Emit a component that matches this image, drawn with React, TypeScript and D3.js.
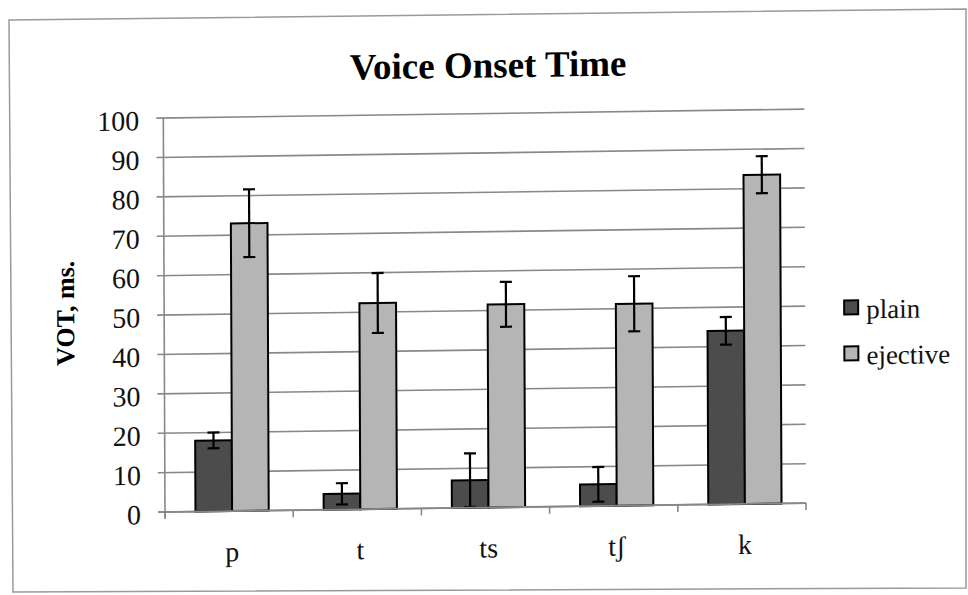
import React from "react";
import * as d3 from "d3";

const categories = ["p", "t", "ts", "tʃ", "k"];
const seriesNames = ["plain", "ejective"];
const plainValues = [18, 4, 7, 5.5, 44];
const plainErrors = [2, 2.7, 6.8, 4.4, 3.5];
const ejectiveValues = [73, 52.3, 51.5, 51.2, 83.5];
const ejectiveErrors = [8.6, 7.6, 5.7, 7, 4.7];
const yTicks = [0, 10, 20, 30, 40, 50, 60, 70, 80, 90, 100];

const W = 968;
const H = 595;
const FONT = "Liberation Serif, DejaVu Serif, serif";
const COLORS = ["#4c4c4c", "#b5b5b5"];

export default function App() {
  const left = 165;
  const right = 806;
  const top = 118;
  const bottom = 512;

  const x = d3.scaleBand<string>().domain(categories).range([left, right]).paddingInner(0).paddingOuter(0);
  const y = d3.scaleLinear().domain([0, 100]).range([bottom, top]);
  const bw = x.bandwidth() / 3.5;

  const series = [
    { name: seriesNames[0], values: plainValues, errors: plainErrors },
    { name: seriesNames[1], values: ejectiveValues, errors: ejectiveErrors },
  ];

  const skew = `translate(${left},${bottom}) matrix(1,-0.0139,0.0043,1,0,0) translate(${-left},${-bottom})`;
  const gridColor = "#888888";
  const boundaries = [...categories.map((c) => x(c) as number), right];

  return (
    <svg width={W} height={H} style={{ position: "absolute", left: 0, top: 0, background: "#fff", fontFamily: FONT }}>
      {/* outer frame */}
      <path d="M9,20 L966,9 L966,588 L13,592 Z" fill="none" stroke="#9a9a9a" strokeWidth={1.5} />

      <g transform={skew}>
        {/* title */}
        <text x={490} y={82} textAnchor="middle" style={{ fontFamily: FONT }} fontWeight="bold" fontSize={37} fill="#000">
          Voice Onset Time
        </text>

        {/* gridlines */}
        {yTicks.map((t) => (
          <line key={"g" + t} x1={left - 7} x2={right} y1={y(t)} y2={y(t)} stroke={gridColor} strokeWidth={1.6} />
        ))}
        {/* y axis */}
        <line x1={left} x2={left} y1={top} y2={bottom + 5} stroke={gridColor} strokeWidth={1.6} />
        {/* x ticks */}
        {boundaries.map((b, i) => (
          <line key={"xt" + i} x1={b} x2={b} y1={bottom} y2={bottom + 7} stroke={gridColor} strokeWidth={1.6} />
        ))}

        {/* y tick labels */}
        {yTicks.map((t) => (
          <text key={"yl" + t} x={141} y={y(t) + 12} textAnchor="end" style={{ fontFamily: FONT }} fontSize={28} fill="#111">
            {t}
          </text>
        ))}

        {/* bars */}
        {series.map((s, si) =>
          categories.map((c, i) => {
            const cx = (x(c) as number) + x.bandwidth() / 2 + 3;
            const bx = cx - bw + si * bw;
            return (
              <rect
                key={s.name + c}
                x={bx}
                y={y(s.values[i])}
                width={bw}
                height={y(0) - y(s.values[i])}
                fill={COLORS[si]}
                stroke="#000"
                strokeWidth={2}
              />
            );
          })
        )}

        {/* error bars */}
        {series.map((s, si) =>
          categories.map((c, i) => {
            const cx = (x(c) as number) + x.bandwidth() / 2 + 3;
            const ex = cx - bw + si * bw + bw / 2;
            const hi = y(s.values[i] + s.errors[i]);
            const lo = y(Math.max(0, s.values[i] - s.errors[i]));
            return (
              <g key={"e" + s.name + c} stroke="#000" strokeWidth={2.2}>
                <line x1={ex} x2={ex} y1={hi} y2={lo} />
                <line x1={ex - 6} x2={ex + 6} y1={hi} y2={hi} />
                <line x1={ex - 6} x2={ex + 6} y1={lo} y2={lo} />
              </g>
            );
          })
        )}

        {/* x axis line */}
        <line x1={left - 7} x2={right} y1={bottom} y2={bottom} stroke={gridColor} strokeWidth={1.8} />

        {/* x labels */}
        {categories.map((c) => (
          <text
            key={"xl" + c}
            x={(x(c) as number) + x.bandwidth() / 2 + 3}
            y={562}
            textAnchor="middle"
            style={{ fontFamily: FONT }}
            fontSize={28}
            fill="#111"
          >
            {c}
          </text>
        ))}

        {/* y axis title */}
        <text
          transform={`translate(75,312) rotate(-90)`}
          textAnchor="middle"
          style={{ fontFamily: FONT }}
          fontWeight="bold"
          fontSize={26}
          fill="#000"
        >
          VOT, ms.
        </text>

        {/* legend */}
        {series.map((s, si) => (
          <g key={"lg" + s.name} transform={`translate(845, ${310 + si * 46})`}>
            <rect x={0} y={0} width={14} height={14} fill={COLORS[si]} stroke="#000" strokeWidth={2} />
            <text x={22} y={18} style={{ fontFamily: FONT }} fontSize={27} fill="#111">
              {s.name}
            </text>
          </g>
        ))}
      </g>
    </svg>
  );
}
